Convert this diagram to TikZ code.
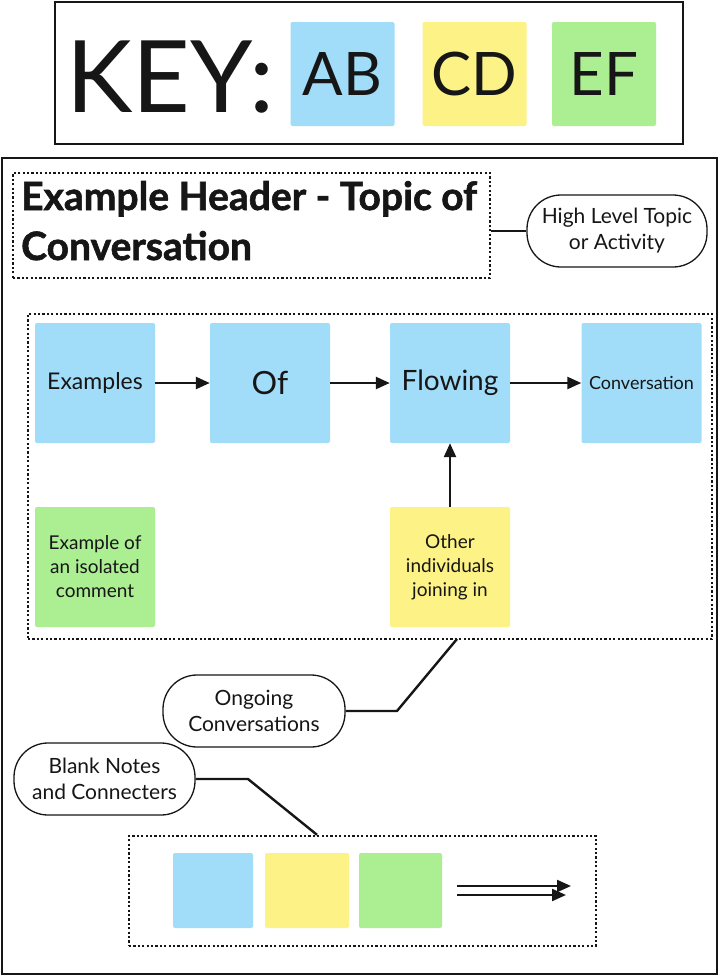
\documentclass[tikz,border=0pt]{standalone}
\usepackage{fontspec}
\setmainfont{Lato}
\newfontfamily\hdrfont[BoldFeatures={FakeBold=1.5}]{Lato}
\usetikzlibrary{arrows.meta}
\definecolor{nblue}{RGB}{161,220,248}
\definecolor{nyellow}{RGB}{253,242,133}
\definecolor{ngreen}{RGB}{172,238,146}
\definecolor{ink}{RGB}{22,22,22}
\begin{document}
\begin{tikzpicture}[x=1pt,y=-1pt,
 frame/.style={draw=ink, line width=2.5pt},
 dotframe/.style={draw=ink, line width=2.4pt, dash pattern=on 2.2pt off 2.2pt, inner sep=0pt},
 note/.style={inner sep=0pt, rounded corners=2pt, minimum width=120pt, minimum height=120pt, align=center, text=ink},
 swatch/.style={inner sep=0pt, rounded corners=2pt, minimum width=104pt, minimum height=104pt, text=ink, font=\fontsize{60}{60}\selectfont},
 pill/.style={draw=ink, line width=1.3pt, rounded corners=34pt, minimum width=180pt, minimum height=72pt, align=center, inner sep=0pt, text=ink, font=\fontsize{21}{26}\selectfont},
 conn/.style={draw=ink, line width=2.4pt},
 arr/.style={conn, -{Triangle[length=14pt,width=12pt]}},
]
\useasboundingbox (0,0) rectangle (720,977);
\fill[white] (0,0) rectangle (720,977);

% key
\node[frame, minimum width=628pt, minimum height=142pt, inner sep=0pt] (keybox) at (369,73) {};
\node[anchor=base west, text=ink, font=\fontsize{100}{100}\selectfont, inner sep=0pt] (key) at (66,112) {KEY:};
\node[swatch, fill=nblue] (ab) at (342.5,74) {AB};
\node[swatch, fill=nyellow] (cd) at (474.5,74) {CD};
\node[swatch, fill=ngreen] (ef) at (604,74) {EF};

% main frame
\node[frame, minimum width=715pt, minimum height=816pt, inner sep=0pt] (main) at (359.5,566) {};

% header
\node[dotframe, minimum width=477pt, minimum height=105pt] (hdr) at (251.5,225.5) {};
\node[anchor=base west, inner sep=0pt, text=ink, font=\hdrfont\bfseries\fontsize{39}{50}\selectfont] (h1) at (21,210) {Example Header - Topic of};
\node[anchor=base west, inner sep=0pt, text=ink, font=\hdrfont\bfseries\fontsize{39}{50}\selectfont] (h2) at (21,260) {Conversation};
\node[pill] (hl) at (617,231) {High Level Topic\\or Activity};
\draw[conn] (hdr.east |- 0,231) -- (hl.west);

% group
\node[dotframe, minimum width=684pt, minimum height=325pt] (grp) at (370,476.5) {};
\node[note, fill=nblue, font=\fontsize{23}{26}\selectfont] (n1) at (95,383) {Examples};
\node[note, fill=nblue, font=\fontsize{32}{36}\selectfont] (n2) at (270,383) {Of};
\node[note, fill=nblue, font=\fontsize{28}{32}\selectfont] (n3) at (450,383) {Flowing};
\node[note, fill=nblue, font=\fontsize{18}{22}\selectfont] (n4) at (641.5,383) {Conversation};
\node[note, fill=ngreen, font=\fontsize{19}{24}\selectfont] (g1) at (95,567) {Example of\\an isolated\\comment};
\node[note, fill=nyellow, font=\fontsize{19}{24}\selectfont] (y1) at (450,567) {Other\\individuals\\joining in};
\draw[arr] (n1) -- (n2);
\draw[arr] (n2) -- (n3);
\draw[arr] (n3) -- (n4);
\draw[arr] (y1) -- (n3);

% ongoing
\node[pill, minimum width=182pt] (og) at (254,711) {Ongoing\\Conversations};
\coordinate (c1) at (457,639);
\coordinate (c2) at (397,711);
\draw[conn] (c1) -- (c2) -- (og.east);

% blank notes
\node[pill, minimum width=181pt] (bn) at (104.5,779) {Blank Notes\\and Connecters};
\node[dotframe, minimum width=467pt, minimum height=110pt] (bot) at (362.5,891) {};
\coordinate (c3) at (248,779);
\draw[conn] (bn.east) -- (c3) -- (bot.north -| 317,0);
\node[swatch, fill=nblue, minimum width=80pt, minimum height=75pt] (b1) at (213,890.5) {};
\node[swatch, fill=nyellow, minimum width=84pt, minimum height=75pt] (b2) at (307,890.5) {};
\node[swatch, fill=ngreen, minimum width=83pt, minimum height=75pt] (b3) at (400.5,890.5) {};
\coordinate (a1s) at (457,886);
\coordinate (a1e) at (571,886);
\coordinate (a2s) at (457,895);
\coordinate (a2e) at (566,895);
\draw[arr, line width=2.2pt] (a1s) -- (a1e);
\draw[arr, line width=2.2pt] (a2s) -- (a2e);
\end{tikzpicture}
\end{document}
